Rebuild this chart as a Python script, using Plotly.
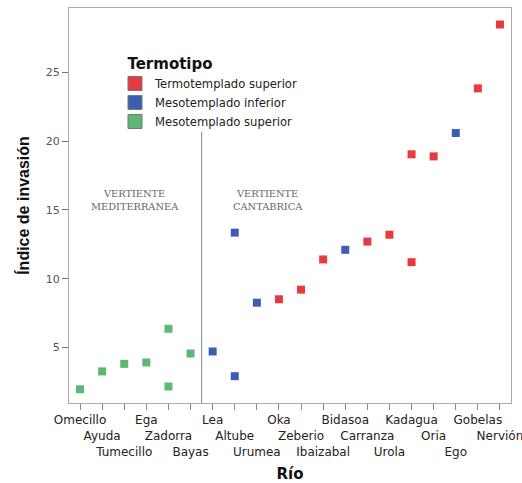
import plotly.graph_objects as go

rivers = ["Omecillo", "Ayuda", "Tumecillo", "Ega", "Zadorra", "Bayas", "Lea", "Altube",
          "Urumea", "Oka", "Zeberio", "Ibaizabal", "Bidasoa", "Carranza", "Urola",
          "Kadagua", "Oria", "Ego", "Gobelas", "Nervión"]

# Termotemplado superior (red)
red_x = ["Oka", "Zeberio", "Ibaizabal", "Carranza", "Urola", "Kadagua", "Kadagua", "Oria", "Gobelas", "Nervión"]
red_y = [8.5, 9.2, 11.4, 12.7, 13.2, 19.05, 11.2, 18.9, 23.85, 28.5]
# Mesotemplado inferior (blue)
blue_x = ["Lea", "Altube", "Altube", "Urumea", "Bidasoa", "Ego"]
blue_y = [4.7, 13.35, 2.9, 8.25, 12.1, 20.6]
# Mesotemplado superior (green)
green_x = ["Omecillo", "Ayuda", "Tumecillo", "Ega", "Zadorra", "Zadorra", "Bayas"]
green_y = [1.95, 3.25, 3.8, 3.9, 6.35, 2.15, 4.55]

series_names = ["Termotemplado superior", "Mesotemplado inferior", "Mesotemplado superior"]
colors = ["#e53a3f", "#3b5eb3", "#5cb873"]

y_ticks = [5, 10, 15, 20, 25]

ticktext = []
for i, r in enumerate(rivers):
    ticktext.append("\u00a0<br>" * (i % 3) + r)

SANS = "DejaVu Sans, Verdana, sans-serif"

fig = go.Figure()
for xs, ys, name, c in zip([red_x, blue_x, green_x], [red_y, blue_y, green_y], series_names, colors):
    fig.add_trace(go.Scatter(x=xs, y=ys, mode="markers", name=name, showlegend=False,
                             marker=dict(symbol="square", size=8, color=c, line=dict(width=0))))
    fig.add_trace(go.Scatter(x=[None], y=[None], mode="markers", name=name, showlegend=True,
                             marker=dict(symbol="square", size=14, color=c,
                                         line=dict(width=1, color="#777"))))

fig.add_shape(type="line", xref="x", yref="y", x0=5.5, x1=5.5, y0=0.95, y1=20.7,
              line=dict(color="#999", width=1.2))

ann_font = dict(family="DejaVu Serif, Liberation Serif, serif", size=9.8, color="#666")
fig.add_annotation(x=2.5, y=15.75, xref="x", yref="y", text="VERTIENTE<br>MEDITERRANEA",
                   showarrow=False, font=ann_font, align="center")
fig.add_annotation(x=8.5, y=15.75, xref="x", yref="y", text="VERTIENTE<br>CANTABRICA",
                   showarrow=False, font=ann_font, align="center")

fig.update_layout(
    width=522, height=483,
    margin=dict(l=69, r=11, t=8, b=80),
    paper_bgcolor="white", plot_bgcolor="white",
    font=dict(family=SANS, color="#222"),
    showlegend=True,
    legend=dict(x=(115 - 69) / 442, y=0.895, xanchor="left", yanchor="top",
                bgcolor="rgba(0,0,0,0)",
                title=dict(text="<b>\u00a0\u00a0Termotipo</b>", font=dict(family=SANS, size=15, color="#111")),
                font=dict(family=SANS, size=11.6, color="#222"), tracegroupgap=0, itemwidth=30),
    xaxis=dict(type="category", categoryorder="array", categoryarray=rivers,
               tickmode="array", tickvals=rivers, ticktext=ticktext, tickangle=0,
               automargin=False,
               range=[-0.5, 19.5], showgrid=False, zeroline=False,
               showline=True, mirror=True, linecolor="#aaa", linewidth=1,
               ticks="outside", ticklen=6, tickcolor="#888",
               tickfont=dict(family=SANS, size=12, color="#222"),
               title=dict(text="<b>Río</b>", font=dict(family=SANS, size=15, color="#111"), standoff=13)),
    yaxis=dict(range=[0.95, 29.7], tickvals=y_ticks, showgrid=False, zeroline=False,
               automargin=False,
               showline=True, mirror=True, linecolor="#aaa", linewidth=1,
               ticks="outside", ticklen=6, tickcolor="#777",
               tickfont=dict(family=SANS, size=11, color="#555"),
               title=dict(text="<b>Índice de invasión</b>",
                          font=dict(family="Liberation Sans, Arial, sans-serif", size=16, color="#111"),
                          standoff=12)),
)

fig.write_html("out.html")
